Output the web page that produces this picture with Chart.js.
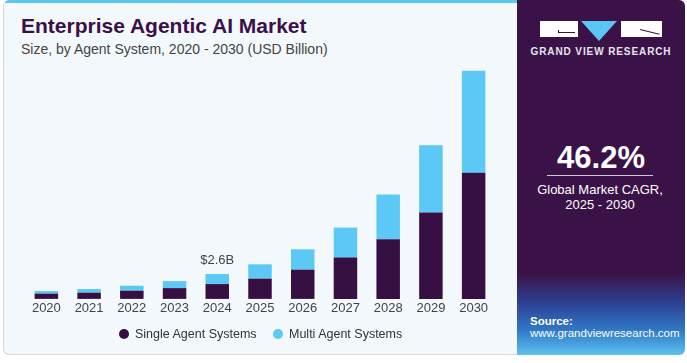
<!DOCTYPE html>
<html>
<head>
<meta charset="utf-8">
<script src="https://cdn.jsdelivr.net/npm/chart.js@4.4.1/dist/chart.umd.min.js"></script>
<style>
  html,body{margin:0;padding:0;background:#fff;width:687px;height:363px;overflow:hidden;font-family:"Liberation Sans",Arial,sans-serif;}
  #panel{position:absolute;left:3px;top:0;width:682px;height:355px;border:1px solid #d4d8dc;border-top:none;border-radius:6px;background:#f3f8fc;overflow:hidden;box-sizing:border-box;}
  #strip{position:absolute;left:0;top:0;width:515px;height:3px;background:#5bc6f2;}
  #right{position:absolute;left:517px;top:0;width:168px;height:355px;border-radius:0 6px 6px 0;background:linear-gradient(to bottom,#3b1247 0%,#3b1247 77%,#2d3f8f 85%,#2f78c8 93%,#5cc2ee 100%);}
  #title{position:absolute;left:21px;top:14px;font-weight:bold;font-size:21px;color:#3b1049;white-space:nowrap;}
  #sub{position:absolute;left:21px;top:41px;font-size:14px;color:#444;white-space:nowrap;}
  #wrap{position:absolute;left:0;top:0;width:687px;height:363px;}
  .lg{position:absolute;top:327px;font-size:12.5px;color:#333;white-space:nowrap;}
  .dot{display:inline-block;width:10px;height:10px;border-radius:50%;vertical-align:-1px;margin-right:6px;}
  .w{position:absolute;color:#fff;text-align:center;white-space:nowrap;}
</style>
</head>
<body>
<div id="panel">
  <div id="strip"></div>
</div>
<div id="right"></div>
<div id="title">Enterprise Agentic AI Market</div>
<div id="sub">Size, by Agent System, 2020 - 2030 (USD Billion)</div>

<!-- logo -->
<div style="position:absolute;left:540px;top:21px;width:38px;height:16px;background:#fff;"></div>
<div style="position:absolute;left:558px;top:32px;width:17px;height:1px;background:#3b1247;"></div>
<div style="position:absolute;left:558px;top:30px;width:1px;height:3px;background:#3b1247;"></div>
<div style="position:absolute;left:581px;top:21px;width:0;height:0;border-left:18px solid transparent;border-right:18px solid transparent;border-top:20px solid #5bc6f2;"></div>
<div style="position:absolute;left:621px;top:21px;width:41px;height:16px;background:#fff;"></div>
<div style="position:absolute;left:640px;top:29px;width:20px;height:1px;background:#3b1247;transform:rotate(14deg);transform-origin:left center;"></div>
<div class="w" style="left:530px;top:46px;width:142px;font-size:10px;font-weight:bold;letter-spacing:0.9px;color:#e8e4ee;">GRAND VIEW RESEARCH</div>

<div class="w" style="left:530px;top:140px;width:142px;font-size:31px;font-weight:bold;">46.2%</div>
<div style="position:absolute;left:547px;top:175px;width:106px;height:1px;background:#cfc6d6;"></div>
<div class="w" style="left:520px;top:182px;width:160px;font-size:13px;line-height:15px;">Global Market CAGR,<br>2025 - 2030</div>

<div style="position:absolute;left:530px;top:315px;font-size:11.5px;font-weight:bold;color:#fff;">Source:</div>
<div style="position:absolute;left:530px;top:327px;font-size:11.5px;color:#fff;white-space:nowrap;">www.grandviewresearch.com</div>

<div id="wrap"><canvas id="c" width="687" height="363"></canvas></div>

<div class="lg" style="left:119px;"><span class="dot" style="background:#361042;"></span>Single Agent Systems</div>
<div class="lg" style="left:273px;"><span class="dot" style="background:#5bc8f5;"></span>Multi Agent Systems</div>

<script>
const years = ["2020","2021","2022","2023","2024","2025","2026","2027","2028","2029","2030"];
const singleAgent = [0.55,0.65,0.86,1.13,1.55,2.12,3.06,4.32,6.24,9.04,13.19];
const multiAgent  = [0.27,0.38,0.52,0.73,1.05,1.50,2.13,3.14,4.68,7.05,10.69];
const annotationYear = "2024";
const annotationText = "$2.6B";

const annot = {
  id:'annot',
  afterDatasetsDraw(chart){
    const i = years.indexOf(annotationYear);
    const x = chart.scales.x.getPixelForValue(i);
    const y = chart.scales.y.getPixelForValue(singleAgent[i]+multiAgent[i]);
    const ctx = chart.ctx;
    ctx.save();
    ctx.font = '13px "Liberation Sans", Arial, sans-serif';
    ctx.fillStyle = '#444';
    ctx.textAlign = 'center';
    ctx.textBaseline = 'bottom';
    ctx.fillText(annotationText, x, y - 7);
    ctx.restore();
  }
};

new Chart(document.getElementById('c'), {
  type:'bar',
  data:{
    labels: years,
    datasets:[
      {label:'Single Agent Systems', data: singleAgent, backgroundColor:'#361042', stack:'s'},
      {label:'Multi Agent Systems', data: multiAgent, backgroundColor:'#5bc8f5', stack:'s'}
    ]
  },
  options:{
    responsive:false,
    animation:false,
    layout:{padding:{left:25, right:192, top:60, bottom:44.5}},
    datasets:{bar:{barPercentage:0.55, categoryPercentage:1.0}},
    plugins:{legend:{display:false}, tooltip:{enabled:false}},
    scales:{
      x:{stacked:true, grid:{display:false, drawTicks:false}, border:{display:false},
         ticks:{color:'#444', font:{size:13, family:'"Liberation Sans", Arial, sans-serif'}, padding:2, maxRotation:0}},
      y:{stacked:true, display:false, min:0, max:25}
    }
  },
  plugins:[annot]
});
</script>
</body>
</html>
